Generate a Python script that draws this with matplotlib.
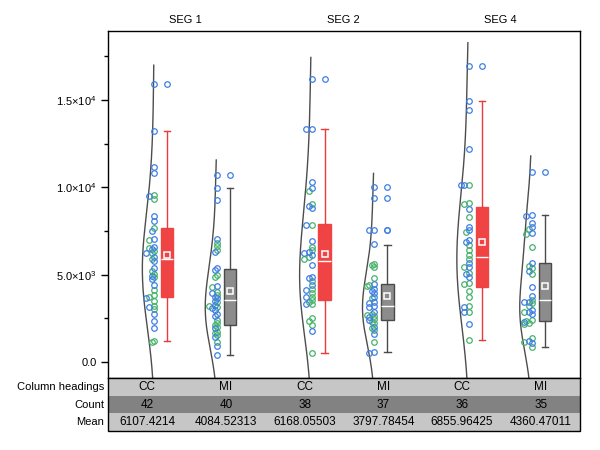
import numpy as np
import matplotlib
matplotlib.use('Agg')
import matplotlib.pyplot as plt
from matplotlib.patches import Rectangle
from matplotlib.ticker import MultipleLocator, FuncFormatter

plt.rcParams['font.family'] = ['Liberation Sans', 'DejaVu Sans']
plt.rcParams['mathtext.fontset'] = 'custom'
plt.rcParams['mathtext.rm'] = 'Liberation Sans'
plt.rcParams['mathtext.it'] = 'Liberation Sans:italic'

# ---------------- data ----------------
segments = ['SEG 1', 'SEG 2', 'SEG 4']
headings = ['CC', 'MI', 'CC', 'MI', 'CC', 'MI']
counts = ['42', '40', '38', '37', '36', '35']
means_txt = ['6107.4214', '4084.52313', '6168.05503', '3797.78454', '6855.96425', '4360.47011']
row_labels = ['Column headings', 'Count', 'Mean']

cc1 = [15902, 13248, 11168, 10824, 9583, 9507, 9316, 8381, 8094, 7655, 7484, 7063, 6987, 6605,
       6548, 6452, 6357, 6223, 6261, 6033, 5918, 5804, 5402, 5231, 5040, 4944, 4849, 4753, 4410,
       4123, 3818, 3742, 3685, 3512, 3207, 3169, 3016, 2730, 2367, 1966, 1221, 1126]
cc1_col = 'BBBBGBGBBGBBGBGBGGBBGBBGGBGBBGGGBGGBGBBBGG'
mi1 = [10709, 9984, 9278, 7063, 6834, 6643, 6414, 6318, 5402, 5269, 4982, 4887, 4352, 4314, 4028,
       3971, 3837, 3742, 3646, 3512, 3417, 3264, 3207, 3131, 3073, 2978, 2749, 2634, 2405, 2214,
       2119, 2024, 1928, 1737, 1642, 1546, 1451, 1164, 936, 401]
mi1_col = 'BBBBGGGBBBGGBGGBGBBBGBGGBBBBGGGGBGGGBGBB'
cc2 = [16207, 13362, 13362, 10309, 9946, 9812, 9049, 8954, 8839, 7865, 7865, 6930, 6567, 6395,
       6300, 6261, 6147, 5994, 5918, 5536, 4887, 4791, 4658, 4410, 4161, 4123, 3932, 3742, 3703,
       3551, 3455, 3341, 3302, 2500, 2367, 2119, 1756, 496]
cc2_col = 'BBBBBGGBBGBBGGBBBGGBBBGBGBGGBGGGBGGGBG'
mi2 = [10003, 9392, 7579, 7541, 6739, 5631, 5536, 5421, 4791, 4448, 4390, 4333, 4200, 4066, 3932,
       3742, 3646, 3455, 3398, 3207, 3169, 2883, 2749, 2692, 2634, 2596, 2443, 2405, 2309, 2214,
       2024, 1928, 1833, 1604, 1164, 592, 535]
mi2_col = 'BBBBBGGGGBGGBBBBGBBBBBGGGBGBGGBGGBGBB'
cc4 = [16970, 14929, 14432, 12179, 10156, 10117, 10117, 9086, 9030, 8743, 8323, 7751, 7560, 7465,
       6987, 6891, 6701, 6414, 6128, 5880, 5650, 5460, 5421, 5116, 5020, 4887, 4505, 4467, 4085,
       3703, 3207, 3169, 2883, 2883, 2157, 1260]
cc4_col = 'BBBBGBBGGBGBBGBBGGGGBBGGBBGGGGGBGBBG'
mi4 = [10862, 8419, 8362, 7980, 7751, 7598, 7369, 7331, 6605, 5650, 5498, 5364, 5211, 5020, 4295,
       3799, 3551, 3455, 3417, 3360, 3226, 2978, 2883, 2863, 2749, 2405, 2348, 2309, 2252, 2176,
       1355, 1221, 1164, 1107, 840]
mi4_col = 'BBBBBGBGGBGGBGBBGBBGGBBGBGGBGGGBGBG'

series = [cc1, mi1, cc2, mi2, cc4, mi4]
series_col = [cc1_col, mi1_col, cc2_col, mi2_col, cc4_col, mi4_col]

# box statistics
q1 = [3740, 2119, 3551, 2386, 4276, 2367]
med = [5882, 3531, 5765, 3207, 5994, 3531]
q3 = [7657, 5326, 7884, 4448, 8858, 5650]
whislo = [1203, 401, 496, 554, 1260, 840]
whishi = [13247, 9984, 13362, 6720, 14929, 8438]
fliers = [[15902], [10709], [16207], [7541, 7579, 9392, 10003], [16970], [10862]]
means = [float(m) for m in means_txt]

# ---------------- layout / style ----------------
positions = [1, 2, 3.5, 4.5, 6, 7]
box_off = 0.207
box_w = 0.195
violin_w = 0.19
xlim = (0.264, 7.768)
ylim = (-916, 18956)
blue = '#3f7fe3'
green = '#46b36a'
box_face = ['#f04343', '#8c8c8c'] * 3
box_edge = ['#f04343', '#4a4a4a'] * 3
line_col = ['#e83c3c', '#4a4a4a'] * 3

fig = plt.figure(figsize=(6, 4.5), dpi=100)
ax = fig.add_axes([108 / 600, 1 - 378 / 450, 472 / 600, 347 / 450])
ax.set_xlim(*xlim)
ax.set_ylim(*ylim)

px_per_x = 472 / (xlim[1] - xlim[0])
px_per_y = 347 / (ylim[1] - ylim[0])

for i, (vals, cols) in enumerate(zip(series, series_col)):
    p = positions[i]
    v = np.array(vals, dtype=float)
    # half violin (gaussian KDE)
    n = len(v)
    bw = 1.4 * 1.06 * v.std(ddof=1) * n ** (-0.2)
    grid = np.linspace(v.min() - 3.5 * bw, v.max() + 0.5 * bw, 400)
    dens = np.exp(-0.5 * ((grid[:, None] - v[None, :]) / bw) ** 2).sum(axis=1)
    dens = dens / dens.max() * violin_w
    ax.plot(p - dens, grid, color='#4d4d4d', lw=1.0, zorder=2, clip_on=True)

    # light leftward jitter for overlapping points
    placed = []
    xs = []
    for val in v:
        k = 0
        while True:
            xo = -k * 2.6
            ok = True
            for (px, py) in placed:
                if (px - xo) ** 2 + ((py - val * px_per_y)) ** 2 < 3.0 ** 2:
                    ok = False
                    break
            if ok or k >= 3:
                break
            k += 1
        placed.append((xo, val * px_per_y))
        xs.append(p + xo / px_per_x)
    xs = np.array(xs)
    colarr = np.array([blue if c == 'B' else green for c in cols])
    for c in (green, blue):
        m = colarr == c
        ax.plot(xs[m], v[m], 'o', ms=4.0, mfc='none', mec=c, mew=0.9, zorder=3)

    stats = [dict(med=med[i], q1=q1[i], q3=q3[i], whislo=whislo[i], whishi=whishi[i],
                  mean=means[i], fliers=fliers[i])]
    ax.bxp(stats, positions=[p + box_off], widths=box_w, capwidths=0.1,
           patch_artist=True, showmeans=True, showfliers=True, manage_ticks=False,
           boxprops=dict(facecolor=box_face[i], edgecolor=box_edge[i], lw=1),
           medianprops=dict(color='white', lw=1),
           meanprops=dict(marker='s', mfc='none', mec='white', ms=4, mew=1.1),
           whiskerprops=dict(color=line_col[i], lw=1),
           capprops=dict(color=line_col[i], lw=1),
           flierprops=dict(marker='o', ms=4.0, mfc='none', mec=blue, mew=0.9))

# axes styling
ax.set_xticks([])
ax.yaxis.set_major_locator(MultipleLocator(5000))
ax.yaxis.set_minor_locator(MultipleLocator(2500))


def fmt(val, pos):
    if abs(val) < 1e-9:
        return '0.0'
    e = int(np.floor(np.log10(abs(val))))
    m = val / 10 ** e
    return r'$\mathregular{%.1f{\times}10^{%d}}$' % (m, e)


ax.yaxis.set_major_formatter(FuncFormatter(fmt))
ax.tick_params(axis='y', which='major', direction='out', length=5, width=1, labelsize=8, pad=3)
ax.tick_params(axis='y', which='minor', direction='out', length=3, width=1)
for s in ax.spines.values():
    s.set_linewidth(1)
    s.set_color('black')

# segment titles
tr = ax.get_xaxis_transform()
for j, seg in enumerate(segments):
    cx = (positions[2 * j] + positions[2 * j + 1]) / 2
    ax.text(cx, 1 + 11 / 347, seg, transform=tr, ha='center', va='center', fontsize=8)

# ---------------- table ----------------
tax = fig.add_axes([108 / 600, 1 - 431 / 450, 472 / 600, 53 / 450])
tax.set_xlim(0, 6)
tax.set_ylim(0, 3)
tax.axis('off')
row_colors = ['#c6c6c6', '#828282', '#c6c6c6']
rows = [headings, counts, means_txt]
for r in range(3):
    y0 = 2 - r
    tax.add_patch(Rectangle((0, y0), 6, 1, facecolor=row_colors[r], edgecolor='none'))
    for c in range(6):
        tax.text(c + 0.5, y0 + 0.5, rows[r][c], ha='center', va='center', fontsize=8.5)
    fig.text(104 / 600, 1 - (387 + r * 17.7) / 450, row_labels[r], ha='right', va='center',
             fontsize=8)
tax.add_patch(Rectangle((0, 0), 6, 3, facecolor='none', edgecolor='black', lw=1, clip_on=False))

fig.savefig('out.png', dpi=100)
